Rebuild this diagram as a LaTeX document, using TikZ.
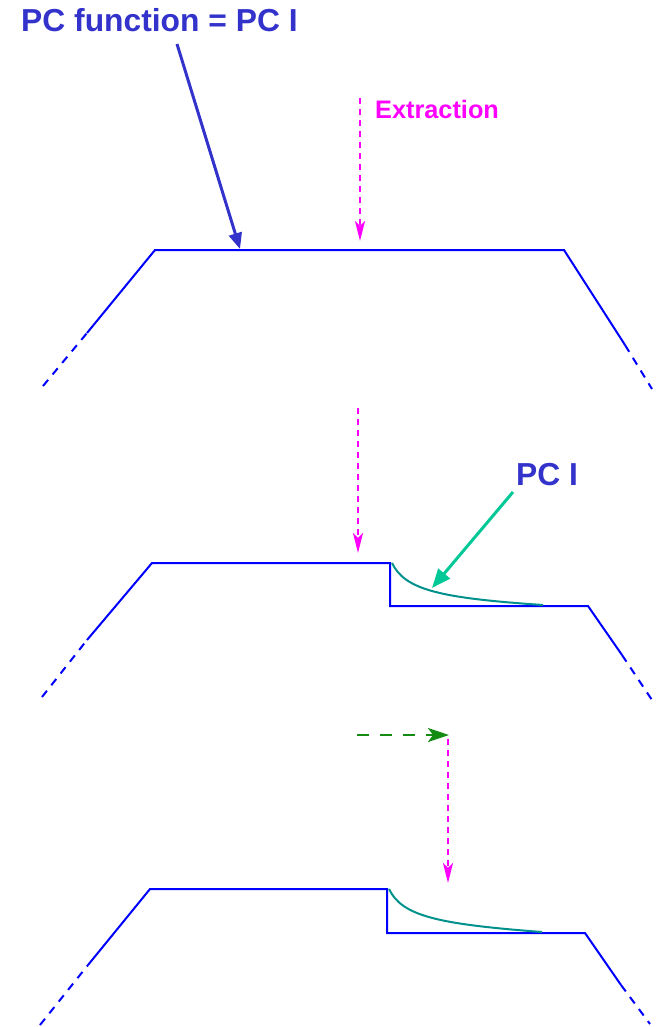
\documentclass[tikz,border=0pt]{standalone}
\usepackage{fontspec}
\newfontfamily\labfont{Liberation Sans}[Scale=1.0]
\usetikzlibrary{arrows.meta}
\definecolor{shapeblue}{RGB}{0,0,255}
\definecolor{labblue}{RGB}{51,51,204}
\definecolor{extmag}{RGB}{255,0,255}
\definecolor{pcgreen}{RGB}{0,200,150}
\definecolor{curveteal}{RGB}{0,145,140}
\definecolor{shiftgreen}{RGB}{20,140,20}
\tikzset{
  profile/.style={shapeblue, line width=2pt, line join=miter},
  tailline/.style={shapeblue, line width=2pt, dash pattern=on 8pt off 7pt},
  decay/.style={curveteal, line width=2pt},
  extract/.style={extmag, line width=2.5pt, dash pattern=on 6pt off 5pt,
    -{Stealth[length=20pt,width=10pt,inset=5pt]}},
  shiftarrow/.style={shiftgreen, line width=2.5pt, dash pattern=on 12pt off 11pt,
    -{Stealth[length=21pt,width=14pt,inset=5pt]}},
  bigtitle/.style={labblue, font=\labfont\bfseries\fontsize{31.8}{32}\selectfont, inner sep=0pt},
  smalltitle/.style={extmag, font=\labfont\bfseries\fontsize{25.3}{26}\selectfont, inner sep=0pt},
}
\begin{document}
\begin{tikzpicture}[x=1pt,y=-1pt]
\useasboundingbox (0,0) rectangle (662,1027);

% ---------- labels ----------
\node[bigtitle, anchor=base west] (title) at (21,32) {PC function = PC I};
\node[bigtitle, anchor=base west] (pci) at (516,485) {PC I};
\node[smalltitle, anchor=base west] (ext) at (375,119) {Extraction};

% ---------- first profile: flat top ----------
\coordinate (a1) at (43,386);
\coordinate (a2) at (87,333);
\coordinate (a3) at (155,250);
\coordinate (a4) at (564,250);
\coordinate (a5) at (625,345);
\coordinate (a6) at (652,389);
\draw[tailline] (a1) -- (a2);
\draw[profile] (a2) -- (a3) -- (a4) -- (a5);
\draw[tailline] (a5) -- (a6);

\coordinate (t1) at (177,44);
\coordinate (t2) at (240,249);
\draw[labblue, line width=3pt, -{Triangle[length=16pt,width=13pt]}] (t1) -- (t2);

\coordinate (e1s) at (360,98);
\coordinate (e1e) at (360,241);
\draw[extract] (e1s) -- (e1e);

% ---------- second profile: step after extraction ----------
\coordinate (b1) at (42,697);
\coordinate (b2) at (87,640);
\coordinate (b3) at (152,563);
\coordinate (b4) at (390,563);
\coordinate (b5) at (390,606);
\coordinate (b6) at (588,606);
\coordinate (b7) at (622,655);
\coordinate (b8) at (652,700);
\draw[tailline] (b1) -- (b2);
\draw[profile] (b2) -- (b3) -- (b4) -- (b5) -- (b6) -- (b7);
\draw[tailline] (b7) -- (b8);
\coordinate (c1) at (392,563);
\coordinate (c2) at (543,605);
\draw[decay] (c1) .. controls (405,590) and (440,598) .. (c2);

\coordinate (e2s) at (358,408);
\coordinate (e2e) at (358,553);
\draw[extract] (e2s) -- (e2e);

\coordinate (p1) at (513,492);
\coordinate (p2) at (432,588);
\draw[pcgreen, line width=3pt, -{Triangle[length=19pt,width=15pt]}] (p1) -- (p2);

% ---------- third profile: shifted extraction ----------
\coordinate (d1) at (40,1025);
\coordinate (d2) at (88,965);
\coordinate (d3) at (150,889);
\coordinate (d4) at (387,889);
\coordinate (d5) at (387,933);
\coordinate (d6) at (585,933);
\coordinate (d7) at (621,985);
\coordinate (d8) at (650,1024);
\draw[tailline] (d1) -- (d2);
\draw[profile] (d2) -- (d3) -- (d4) -- (d5) -- (d6) -- (d7);
\draw[tailline] (d7) -- (d8);
\coordinate (f1) at (389,889);
\coordinate (f2) at (542,932);
\draw[decay] (f1) .. controls (402,916) and (437,924) .. (f2);

\coordinate (g1) at (357,735);
\coordinate (g2) at (449,735);
\draw[shiftarrow] (g1) -- (g2);

\coordinate (e3s) at (448,739);
\coordinate (e3e) at (448,883);
\draw[extract] (e3s) -- (e3e);
\end{tikzpicture}
\end{document}
